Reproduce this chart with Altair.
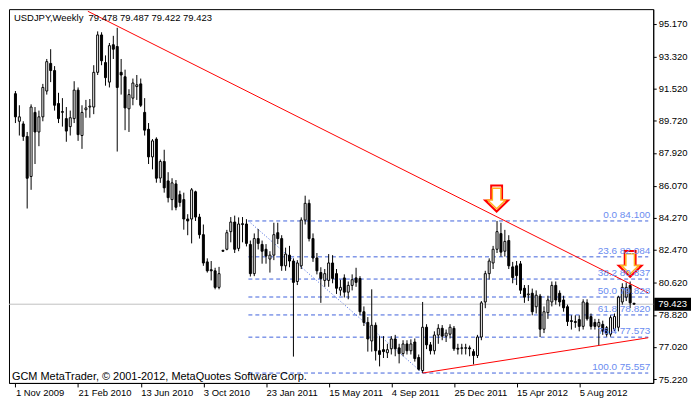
import altair as alt
import pandas as pd
import numpy as np

# ---------------- data (USDJPY weekly) ----------------
opens = [
    91.25, 89.7, 89.55, 88.85, 86.6, 90.2, 89.1, 89.95, 91.4, 92.95,
    92.55, 90.7, 90.2, 89.85, 89.4, 89.85, 91.45, 88.9, 90.35, 90.5,
    90.5, 92.45, 94.55, 93.0, 91.9, 94.0, 93.9, 92.45, 92.2, 90.4,
    91.0, 91.65, 91.8, 90.2, 89.25, 87.7, 88.7, 86.51, 87.44, 86.35,
    85.30, 86.18, 85.58, 85.30, 84.21, 84.21, 85.74, 84.32, 83.33, 81.80,
    81.36, 81.30, 80.37, 82.45, 82.51, 83.50, 84.04, 82.56, 83.90, 83.93,
    82.78, 81.14, 83.11, 82.78, 82.51, 81.96, 82.18, 83.44, 83.11, 81.58,
    82.18, 81.85, 80.70, 81.58, 84.15, 85.09, 83.11, 82.02, 81.20, 80.76,
    80.76, 81.74, 81.14, 80.21, 80.90, 80.10, 80.48, 80.90, 80.87, 79.00,
    78.40, 77.36, 78.24, 76.81, 76.87, 76.70, 76.92, 77.47, 76.97, 76.65,
    77.19, 76.81, 77.30, 76.43, 75.70, 78.13, 77.14, 76.81, 77.69, 78.07,
    77.63, 77.74, 78.07, 76.95, 76.97, 76.95, 76.97, 76.76, 76.54, 77.58,
    79.55, 81.14, 81.74, 82.51, 83.39, 82.40, 83.00, 81.52, 81.58, 81.69,
    80.32, 79.95, 80.04, 79.28, 79.88, 78.02, 78.95, 79.55, 80.48, 80.04,
    79.66, 79.28, 78.50, 78.45, 78.56, 78.18, 79.50, 78.73, 78.40, 78.18,
    78.29, 78.10, 77.74, 78.02, 78.13, 79.55, 79.82, 80.48, 79.478,
]
highs = [
    91.4, 90.6, 89.7, 89.1, 90.65, 90.5, 90.3, 91.8, 93.2, 93.75,
    92.8, 91.3, 91.0, 90.5, 90.3, 91.95, 91.6, 90.6, 90.9, 90.95,
    92.85, 94.75, 94.7, 93.4, 94.1, 94.5, 94.95, 93.2, 92.6, 91.5,
    92.1, 92.3, 92.1, 91.0, 89.6, 88.7, 88.8, 87.55, 88.10, 86.84,
    86.50, 86.40, 85.80, 85.69, 84.48, 85.95, 85.80, 84.50, 83.90, 82.00,
    81.85, 81.47, 81.52, 82.48, 83.60, 84.32, 84.40, 84.30, 84.32, 84.20,
    83.00, 83.40, 83.65, 83.00, 82.80, 82.40, 84.00, 84.00, 83.30, 82.60,
    82.70, 82.00, 81.90, 84.30, 85.52, 85.30, 83.40, 82.30, 81.50, 81.40,
    82.24, 82.18, 81.40, 80.80, 81.10, 80.70, 81.10, 81.47, 81.00, 79.30,
    78.70, 80.26, 78.40, 77.63, 77.63, 77.20, 77.63, 77.70, 77.20, 77.40,
    77.40, 77.45, 77.50, 76.60, 79.55, 78.30, 77.30, 77.90, 78.30, 78.25,
    78.00, 78.30, 78.20, 77.20, 77.20, 77.20, 77.10, 76.90, 77.70, 79.60,
    81.30, 82.00, 82.70, 84.10, 84.00, 83.60, 83.30, 81.80, 81.85, 81.85,
    80.50, 80.50, 80.30, 80.20, 80.00, 79.30, 79.90, 80.70, 80.70, 80.20,
    79.90, 79.40, 78.80, 78.80, 78.80, 79.70, 79.70, 78.90, 78.60, 78.60,
    78.50, 78.20, 78.80, 78.90, 79.90, 80.60, 80.65, 80.70, 79.487,
]
lows = [
    89.6, 88.9, 88.6, 84.8, 85.85, 87.3, 88.3, 89.7, 91.2, 91.9,
    90.3, 89.6, 89.4, 88.55, 88.9, 89.6, 88.6, 88.15, 89.9, 89.9,
    90.1, 92.3, 92.85, 91.7, 91.6, 93.2, 88.0, 91.2, 89.2, 89.1,
    90.6, 90.9, 90.5, 88.9, 87.3, 87.0, 86.25, 86.24, 85.69, 85.14,
    84.70, 84.70, 84.90, 83.61, 83.30, 82.84, 84.10, 83.11, 81.58, 81.20,
    80.76, 80.26, 80.26, 82.38, 82.45, 82.90, 82.30, 82.40, 82.90, 82.67,
    80.98, 81.00, 82.50, 81.70, 81.70, 81.20, 81.90, 82.80, 81.30, 81.30,
    81.50, 76.48, 80.50, 81.40, 83.90, 82.95, 81.80, 81.10, 79.50, 80.40,
    80.40, 80.60, 80.00, 79.90, 79.80, 79.70, 80.20, 80.40, 78.80, 78.20,
    76.76, 76.76, 76.26, 75.93, 76.40, 76.40, 76.60, 76.50, 76.10, 76.50,
    76.60, 76.60, 76.20, 75.70, 75.557, 76.90, 76.60, 76.60, 77.20, 77.40,
    77.30, 77.50, 76.80, 76.60, 76.60, 76.60, 76.50, 76.04, 76.40, 77.40,
    79.20, 80.80, 81.40, 82.30, 82.10, 82.10, 81.40, 80.60, 80.50, 80.00,
    79.50, 79.60, 78.80, 78.90, 77.58, 77.80, 78.60, 79.30, 79.40, 79.30,
    79.00, 78.20, 78.00, 78.10, 77.90, 78.00, 78.50, 78.00, 78.00, 77.12,
    77.70, 77.60, 77.60, 77.90, 77.90, 79.40, 79.60, 79.20, 79.422,
]
closes = [
    89.95, 89.95, 88.85, 86.5, 90.5, 89.1, 89.95, 91.6, 93.05, 92.55,
    90.6, 89.85, 90.25, 89.15, 89.9, 91.45, 88.95, 90.2, 90.45, 90.55,
    92.45, 94.55, 93.1, 92.15, 93.95, 93.75, 91.6, 92.3, 90.45, 91.2,
    91.85, 91.75, 90.6, 89.2, 87.7, 88.6, 86.5, 87.44, 85.96, 85.41,
    86.24, 84.87, 85.14, 84.21, 84.10, 85.85, 84.32, 83.33, 81.74, 81.30,
    81.30, 80.37, 81.14, 82.40, 83.44, 84.04, 82.51, 83.93, 83.95, 82.84,
    81.14, 83.11, 82.84, 82.40, 82.13, 82.18, 83.33, 83.11, 81.58, 82.24,
    81.85, 80.65, 81.74, 84.15, 85.09, 83.11, 82.02, 81.30, 80.87, 81.14,
    81.74, 80.87, 80.32, 80.37, 80.10, 80.48, 80.80, 80.65, 79.00, 78.40,
    77.47, 78.24, 76.81, 76.60, 76.76, 76.87, 77.47, 76.92, 76.65, 77.19,
    76.81, 77.19, 76.37, 75.77, 78.13, 77.14, 76.81, 77.69, 78.07, 77.63,
    77.80, 78.13, 76.92, 76.90, 76.95, 76.98, 76.92, 76.54, 77.58, 79.50,
    81.14, 81.85, 82.51, 83.50, 82.35, 82.95, 81.58, 80.92, 81.03, 80.21,
    79.82, 80.00, 79.00, 79.93, 78.02, 79.00, 79.66, 80.48, 79.66, 79.55,
    79.22, 78.45, 78.45, 78.40, 78.18, 79.55, 78.60, 78.18, 78.18, 78.40,
    77.91, 77.74, 78.67, 78.73, 79.82, 80.37, 80.37, 79.50, 79.423,
]

x_tick_weeks = [0, 16, 32, 48, 64, 80, 96, 112, 128, 144]
x_tick_labels = ["1 Nov 2009", "21 Feb 2010", "13 Jun 2010", "3 Oct 2010",
                 "23 Jan 2011", "15 May 2011", "4 Sep 2011", "25 Dec 2011",
                 "15 Apr 2012", "5 Aug 2012"]
y_ticks = [95.170, 93.320, 91.520, 89.720, 87.920, 86.070, 84.270,
           82.470, 80.620, 78.820, 77.020, 75.220]

fib_levels = ["0.0", "23.6", "38.2", "50.0", "61.8", "76.4", "100.0"]
fib_prices = [84.100, 82.084, 80.837, 79.828, 78.820, 77.573, 75.557]
fib_start_week = 59.5
fib_diag_weeks = [59.5, 104.0]
fib_diag_prices = [84.100, 75.557]

upper_trend_weeks = [18.5, 161.625]
upper_trend_prices = [95.88, 80.06]
lower_trend_weeks = [104.0, 161.625]
lower_trend_prices = [75.557, 77.54]

arrow_weeks = [122.9, 157.0]
arrow_prices = [85.36, 81.69]

title_text = "USDJPY,Weekly\u00a0\u00a079.478 79.487 79.422 79.423"
copyright_text = "GCM MetaTrader, \u00a9 2001-2012, MetaQuotes Software Corp."
last_price = 79.423

# ---------------- layout ----------------
W, H = 648, 376
XDOM = [-0.375, 161.625]
YDOM = [75.0, 96.0]
FONT = "Liberation Sans"
FIB_BLUE = "#3f62dc"
FIB_TEXT = "#6a8cf0"

xs = alt.Scale(domain=XDOM, nice=False, zero=False)
ys = alt.Scale(domain=YDOM, nice=False, zero=False)

candles = pd.DataFrame({
    "week": list(range(len(opens))),
    "open": opens, "high": highs, "low": lows, "close": closes,
})
candles["top"] = candles[["open", "close"]].max(axis=1)
candles["bottom"] = candles[["open", "close"]].min(axis=1)
candles["dir"] = np.where(candles["close"] >= candles["open"], "up", "down")

label_js = "[" + ",".join("'%s'" % s for s in x_tick_labels) + "]"
tick_js = "[" + ",".join(str(v) for v in x_tick_weeks) + "]"

x_axis = alt.Axis(values=x_tick_weeks, labelExpr=f"{label_js}[indexof({tick_js}, datum.value)]",
                  orient="bottom", tickSize=4, labelAlign="left", labelPadding=1,
                  labelFlush=False, labelOverlap=False, grid=False, title=None,
                  labelFont=FONT, labelFontSize=9.5, labelColor="black",
                  domainColor="black", tickColor="black")
y_axis = alt.Axis(values=y_ticks, format=".3f", orient="right", tickSize=3,
                  labelPadding=2, grid=False, title=None, labelFont=FONT,
                  labelFontSize=9.5, labelColor="black", domainColor="black",
                  tickColor="black", labelOverlap=False, labelFlush=False)


def X(field):
    return alt.X(field, scale=xs, axis=x_axis)


def Y(field):
    return alt.Y(field, scale=ys, axis=y_axis)


base = alt.Chart(candles)

wicks = base.mark_rule(color="black", strokeWidth=1).encode(
    x=X("week:Q"), y=Y("low:Q"), y2="high:Q",
)
bodies = base.mark_bar(size=2, stroke="black", strokeWidth=1).encode(
    x=X("week:Q"),
    y=Y("bottom:Q"),
    y2="top:Q",
    fill=alt.Fill("dir:N", scale=alt.Scale(domain=["up", "down"], range=["white", "black"]), legend=None),
)

fib_df = pd.DataFrame({
    "level": fib_levels, "price": fib_prices,
    "start": [fib_start_week] * len(fib_levels), "end": [XDOM[1]] * len(fib_levels),
})
fib_df["label"] = [f"{l} {p:.3f}" for l, p in zip(fib_levels, fib_prices)]

fib_lines = alt.Chart(fib_df).mark_rule(color=FIB_BLUE, strokeWidth=1, strokeDash=[4, 3]).encode(
    x=X("start:Q"), x2="end:Q", y=Y("price:Q"))
fib_labels = alt.Chart(fib_df).mark_text(align="right", baseline="bottom", dy=-1, color=FIB_TEXT,
                                         font=FONT, fontSize=10).encode(
    x=alt.value(W - 3), y=Y("price:Q"), text="label:N")

diag_df = pd.DataFrame({"x1": [fib_diag_weeks[0]], "x2": [fib_diag_weeks[1]],
                        "y1": [fib_diag_prices[0]], "y2": [fib_diag_prices[1]]})
fib_diag = alt.Chart(diag_df).mark_rule(color=FIB_BLUE, strokeWidth=1, strokeDash=[1, 2]).encode(
    x=X("x1:Q"), x2="x2:Q", y=Y("y1:Q"), y2="y2:Q")

trend_df = pd.DataFrame({
    "x1": [upper_trend_weeks[0], lower_trend_weeks[0]],
    "x2": [upper_trend_weeks[1], lower_trend_weeks[1]],
    "y1": [upper_trend_prices[0], lower_trend_prices[0]],
    "y2": [upper_trend_prices[1], lower_trend_prices[1]],
})
trends = alt.Chart(trend_df).mark_rule(color="#ff0000", strokeWidth=1).encode(
    x=X("x1:Q"), x2="x2:Q", y=Y("y1:Q"), y2="y2:Q")

price_df = pd.DataFrame({"price": [last_price], "txt": [f"{last_price:.3f}"],
                         "p_hi": [last_price + 0.36], "p_lo": [last_price - 0.36]})
price_line = alt.Chart(price_df).mark_rule(color="#c0c0c0", strokeWidth=1).encode(
    y=Y("price:Q"))
price_box = alt.Chart(price_df).mark_rect(color="black").encode(
    x=alt.value(W + 1), x2=alt.value(W + 38), y=Y("p_hi:Q"), y2="p_lo:Q")
price_txt = alt.Chart(price_df).mark_text(align="left", baseline="middle", color="white",
                                          font=FONT, fontSize=9.5).encode(
    x=alt.value(W + 5), y=Y("price:Q"), text="txt:N")

ARROW = "M -0.42 -1 L 0.42 -1 L 0.42 0.15 L 0.88 0.15 L 0 1 L -0.88 0.15 L -0.42 0.15 Z"
arrow_df = pd.DataFrame({"week": arrow_weeks, "price": arrow_prices})
arrows_outer = alt.Chart(arrow_df).mark_point(shape=ARROW, size=680, filled=True, fill="#ffffff",
                                              stroke="#ff0000", strokeWidth=2, opacity=1).encode(
    x=X("week:Q"), y=Y("price:Q"))
arrows_inner = alt.Chart(arrow_df).mark_point(shape=ARROW, size=420, filled=True, fill="#ffffff",
                                              stroke="#ffb020", strokeWidth=1.5, opacity=1).encode(
    x=X("week:Q"), y=Y("price:Q"))

text_df = pd.DataFrame({"t": [title_text], "c": [copyright_text]})
title = alt.Chart(text_df).mark_text(align="left", baseline="middle", color="black",
                                     font=FONT, fontSize=9.5).encode(
    x=alt.value(5), y=alt.value(9), text="t:N")
copyright_mark = alt.Chart(text_df).mark_text(align="left", baseline="middle", color="black",
                                              font=FONT, fontSize=11).encode(
    x=alt.value(3), y=alt.value(H - 6), text="c:N")

chart = alt.layer(
    fib_lines, fib_diag, price_line, wicks, bodies, trends,
    arrows_outer, arrows_inner, fib_labels, title, copyright_mark, price_box, price_txt,
).properties(
    width=W, height=H, padding={"left": 0, "top": 0, "right": 1, "bottom": 0},
    background="white",
).configure_axis(
    labelOverlap=False,
).configure_view(
    stroke="black", strokeWidth=1,
)

chart.save("out.html", embed_options={"renderer": "svg", "actions": False})
